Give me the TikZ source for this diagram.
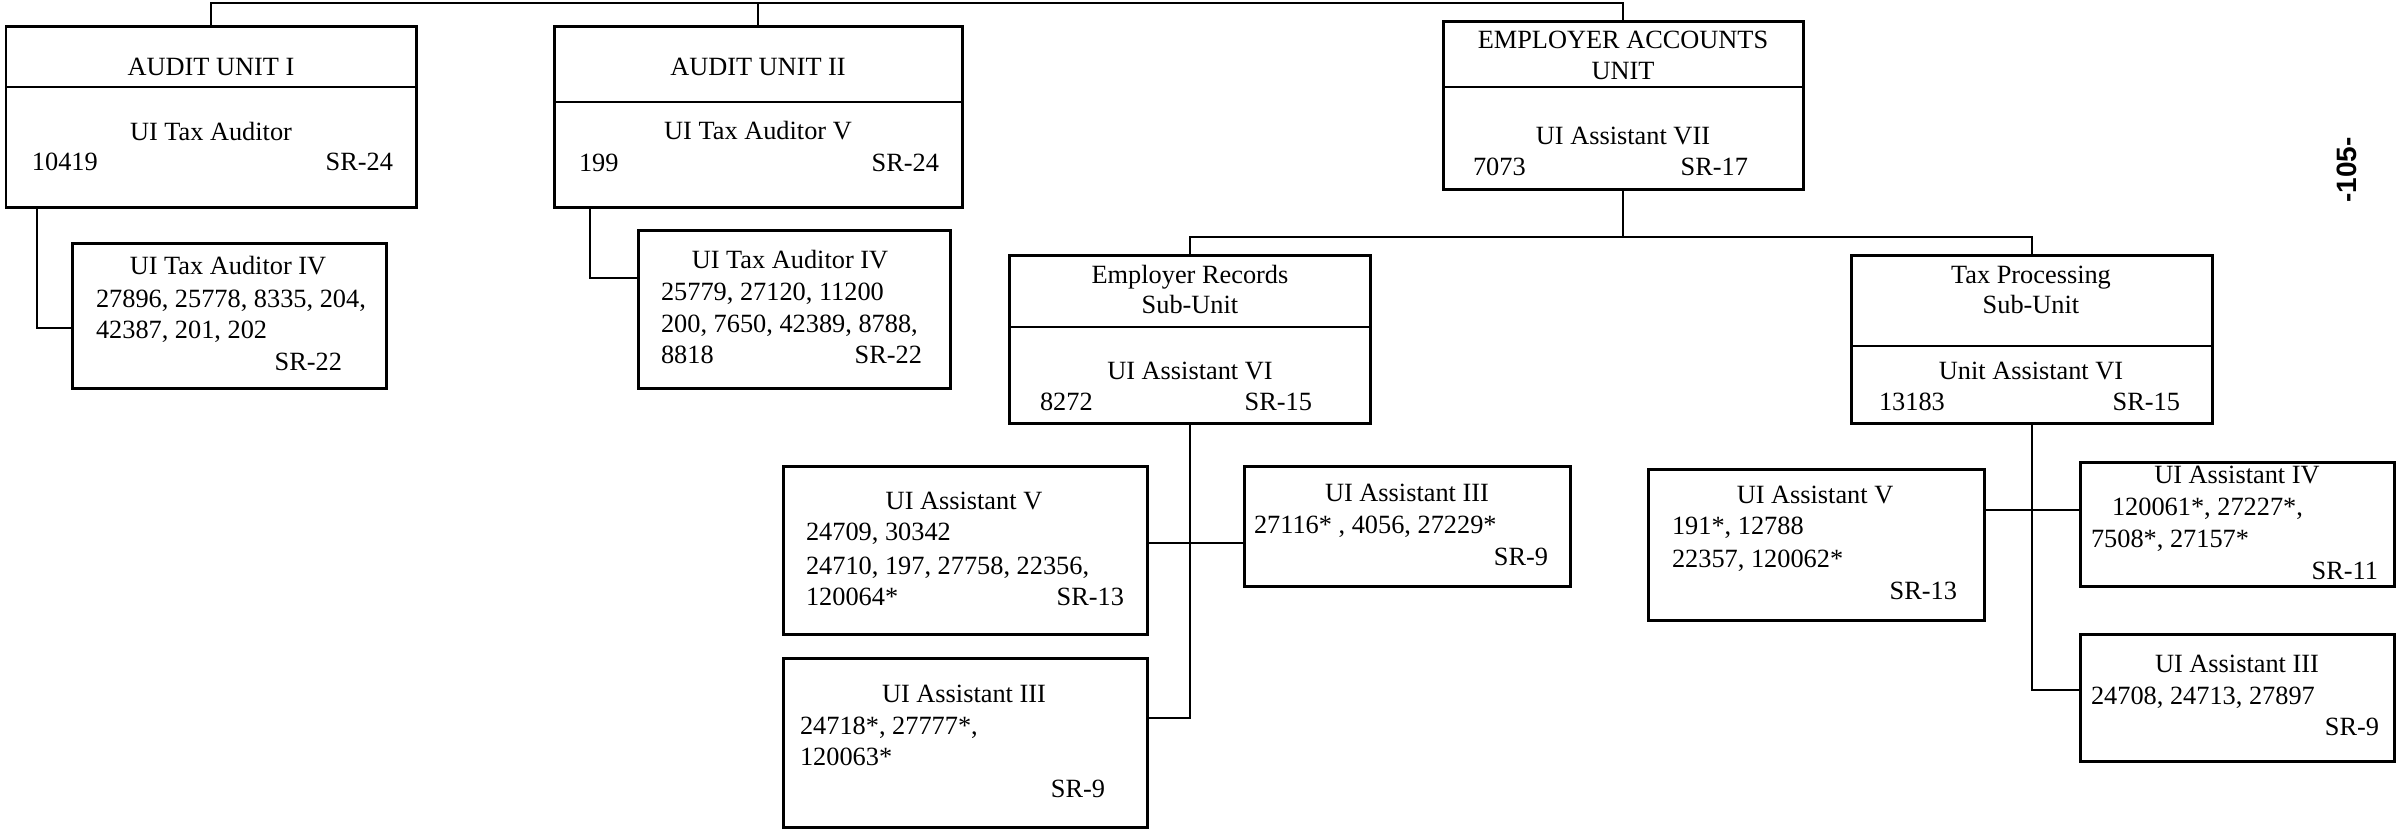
\documentclass[tikz,border=0pt]{standalone}
\usepackage{fontspec}
\setmainfont{Liberation Serif}
\newfontfamily\pagefont{Liberation Sans}
\newcount\tn
\tikzset{
  box/.style={draw, line width=0.9pt, inner sep=0pt, outer sep=0pt},
  divline/.style={line width=0.75pt},
  conn/.style={line width=0.6pt},
  txt/.style={inner sep=0pt, outer sep=0pt, font=\fontsize{7.9}{9.5}\selectfont},
}
\newcommand\bx[5]{\node[box, minimum width={(#4-#2)*0.3pt}, minimum height={(#5-#3)*0.3pt}, anchor=north west] (#1) at (#2,#3) {};}
\newcommand\dv[2]{\draw[divline] (#1.west |- 0,#2) -- (#1.east |- 0,#2);}
\newcommand\tc[3]{\global\advance\tn by 1 \node[txt, anchor=mid] (t\the\tn) at (#1,#2) {#3};}
\newcommand\tl[3]{\global\advance\tn by 1 \node[txt, anchor=mid west] (t\the\tn) at (#1,#2) {#3};}
\newcommand\tr[3]{\global\advance\tn by 1 \node[txt, anchor=mid east] (t\the\tn) at (#1,#2) {#3};}
\begin{document}
\begin{tikzpicture}[x=0.3pt, y=-0.3pt]
\useasboundingbox (0,0) rectangle (2400,833);
% ---------- boxes ----------
\bx{au1}{6}{26}{416}{207}
\bx{au2}{554}{26}{962}{207}
\bx{a1s}{72}{243}{386}{388}
\bx{a2s}{638}{230}{950}{388}
\bx{ea}{1443}{21}{1803}{189}
\bx{er}{1009}{255}{1370}{423}
\bx{tp}{1851}{255}{2212}{423}
\bx{erv}{783}{466}{1147}{634}
\bx{eriiia}{1244}{466}{1570}{586}
\bx{eriiib}{783}{658}{1147}{827}
\bx{tpv}{1648}{469}{1984}{620}
\bx{tpiv}{2080}{462}{2394}{586}
\bx{tpiii}{2080}{634}{2394}{761}
% ---------- dividers ----------
\dv{au1}{87}
\dv{au2}{102}
\dv{ea}{87}
\dv{er}{327}
\dv{tp}{346}
% ---------- connectors ----------
\coordinate (bus) at (0,3);
\draw[conn] (au1.north) -- (au1.north |- bus) -- (ea.north |- bus) -- (ea.north);
\draw[conn] (au2.north) -- (au2.north |- bus);
\draw[conn] (au1.south -| 37,0) |- (a1s.west |- 0,328);
\draw[conn] (au2.south -| 590,0) |- (a2s.west |- 0,278);
\coordinate (eabus) at (0,237);
\draw[conn] (ea.south) -- (ea.south |- eabus);
\draw[conn] (er.north) -- (er.north |- eabus) -- (tp.north |- eabus) -- (tp.north);
\draw[conn] (er.south) |- (eriiib.east |- 0,718);
\draw[conn] (erv.east |- 0,543) -- (eriiia.west |- 0,543);
\draw[conn] (tp.south) |- (tpiii.west |- 0,690);
\draw[conn] (tpv.east |- 0,510) -- (tpiv.west |- 0,510);
% ---------- texts ----------
\tc{211}{68}{AUDIT UNIT I}
\tc{211}{133}{UI Tax Auditor}
\tl{32}{163}{10419}
\tr{393}{163}{SR-24}
\tc{758}{68}{AUDIT UNIT II}
\tc{758}{132}{UI Tax Auditor V}
\tl{579}{164}{199}
\tr{939}{164}{SR-24}
\tc{228}{267}{UI Tax Auditor IV}
\tl{96}{300}{27896, 25778, 8335, 204,}
\tl{96}{331}{42387, 201, 202}
\tr{342}{363}{SR-22}
\tc{790}{261}{UI Tax Auditor IV}
\tl{661}{293}{25779, 27120, 11200}
\tl{661}{325}{200, 7650, 42389, 8788,}
\tl{661}{356}{8818}
\tr{922}{356}{SR-22}
\tc{1623}{41}{EMPLOYER ACCOUNTS}
\tc{1623}{72}{UNIT}
\tc{1623}{137}{UI Assistant VII}
\tl{1473}{168}{7073}
\tr{1748}{168}{SR-17}
\tc{1190}{276}{Employer Records}
\tc{1190}{306}{Sub-Unit}
\tc{1190}{372}{UI Assistant VI}
\tl{1040}{403}{8272}
\tr{1312}{403}{SR-15}
\tc{2031}{276}{Tax Processing}
\tc{2031}{306}{Sub-Unit}
\tc{2031}{372}{Unit Assistant VI}
\tl{1879}{403}{13183}
\tr{2180}{403}{SR-15}
\tc{964}{502}{UI Assistant V}
\tl{806}{533}{24709, 30342}
\tl{806}{567}{24710, 197, 27758, 22356,}
\tl{806}{598}{120064*}
\tr{1124}{598}{SR-13}
\tc{1407}{494}{UI Assistant III}
\tl{1254}{526}{27116* , 4056, 27229*}
\tr{1548}{558}{SR-9}
\tc{964}{695}{UI Assistant III}
\tl{800}{727}{24718*, 27777*,}
\tl{800}{758}{120063*}
\tr{1105}{790}{SR-9}
\tc{1815}{496}{UI Assistant V}
\tl{1672}{527}{191*, 12788}
\tl{1672}{560}{22357, 120062*}
\tr{1957}{592}{SR-13}
\tc{2237}{476}{UI Assistant IV}
\tl{2112}{508}{120061*, 27227*,}
\tl{2091}{540}{7508*, 27157*}
\tr{2378}{572}{SR-11}
\tc{2237}{665}{UI Assistant III}
\tl{2091}{697}{24708, 24713, 27897}
\tr{2379}{728}{SR-9}
\node[inner sep=0pt, rotate=90, font=\pagefont\bfseries\fontsize{8.4}{10}\selectfont] (pagenum) at (2347,170) {-105-};
\end{tikzpicture}
\end{document}
